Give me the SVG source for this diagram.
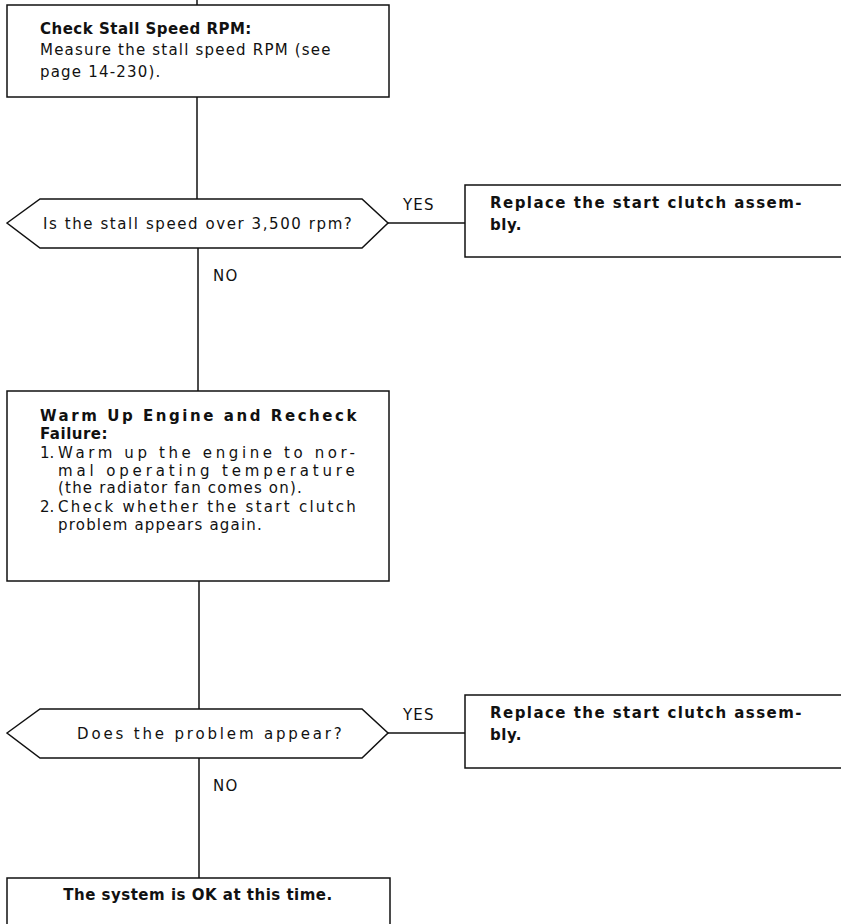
<svg xmlns="http://www.w3.org/2000/svg" width="841" height="924" viewBox="0 0 841 924">
<style>
.box{fill:#fff;stroke:#111;stroke-width:1.5}
.ln{stroke:#111;stroke-width:1.5;fill:none}
text{font-family:"DejaVu Sans","Liberation Sans",sans-serif;font-size:15px;letter-spacing:1.2px;fill:#111}
.b{font-weight:bold;font-size:15px;letter-spacing:0.5px}
.n{letter-spacing:0}
</style>
<rect width="841" height="924" fill="#fff"/>
<g id="connectors">
<line class="ln" x1="197" y1="0" x2="197" y2="5"/>
<line class="ln" x1="197" y1="97" x2="197" y2="199"/>
<line class="ln" x1="198" y1="248" x2="198" y2="391"/>
<line class="ln" x1="388" y1="223" x2="465" y2="223"/>
<line class="ln" x1="199" y1="581" x2="199" y2="709"/>
<line class="ln" x1="199" y1="758" x2="199" y2="878"/>
<line class="ln" x1="388" y1="733" x2="465" y2="733"/>
<text x="403" y="210">YES</text>
<text x="213" y="281">NO</text>
<text x="403" y="720">YES</text>
<text x="213" y="791">NO</text>
</g>
<g id="n1">
<rect class="box" x="7" y="5" width="382" height="92"/>
<text class="b" x="40" y="34">Check Stall Speed RPM:</text>
<text x="40" y="55">Measure the stall speed RPM (see</text>
<text x="40" y="77">page 14-230).</text>
</g>
<g id="d1">
<polygon class="box" points="7,223 40,199 362,199 388,223 362,248 40,248"/>
<text x="198" y="229" text-anchor="middle" textLength="310" lengthAdjust="spacing">Is the stall speed over 3,500 rpm?</text>
</g>
<g id="r1">
<rect class="box" x="465" y="185" width="390" height="72"/>
<text class="b" x="490" y="208" textLength="312" lengthAdjust="spacing">Replace the start clutch assem-</text>
<text class="b" x="490" y="230">bly.</text>
</g>
<g id="n2">
<rect class="box" x="7" y="391" width="382" height="190"/>
<text class="b" x="40" y="421" textLength="317" lengthAdjust="spacing">Warm Up Engine and Recheck</text>
<text class="b" x="40" y="439">Failure:</text>
<text class="n" x="40" y="458">1.</text>
<text x="58" y="458" textLength="298" lengthAdjust="spacing">Warm up the engine to nor-</text>
<text x="58" y="476" textLength="298" lengthAdjust="spacing">mal operating temperature</text>
<text x="58" y="493">(the radiator fan comes on).</text>
<text class="n" x="40" y="512">2.</text>
<text x="58" y="512" textLength="299" lengthAdjust="spacing">Check whether the start clutch</text>
<text x="58" y="530">problem appears again.</text>
</g>
<g id="d2">
<polygon class="box" points="7,733 40,709 362,709 388,733 362,758 40,758"/>
<text x="210" y="739" text-anchor="middle" textLength="266" lengthAdjust="spacing">Does the problem appear?</text>
</g>
<g id="r2">
<rect class="box" x="465" y="695" width="390" height="73"/>
<text class="b" x="490" y="718" textLength="312" lengthAdjust="spacing">Replace the start clutch assem-</text>
<text class="b" x="490" y="740">bly.</text>
</g>
<g id="n3">
<rect class="box" x="7" y="878" width="383" height="60"/>
<text class="b" x="198" y="900" text-anchor="middle">The system is OK at this time.</text>
</g>
</svg>
